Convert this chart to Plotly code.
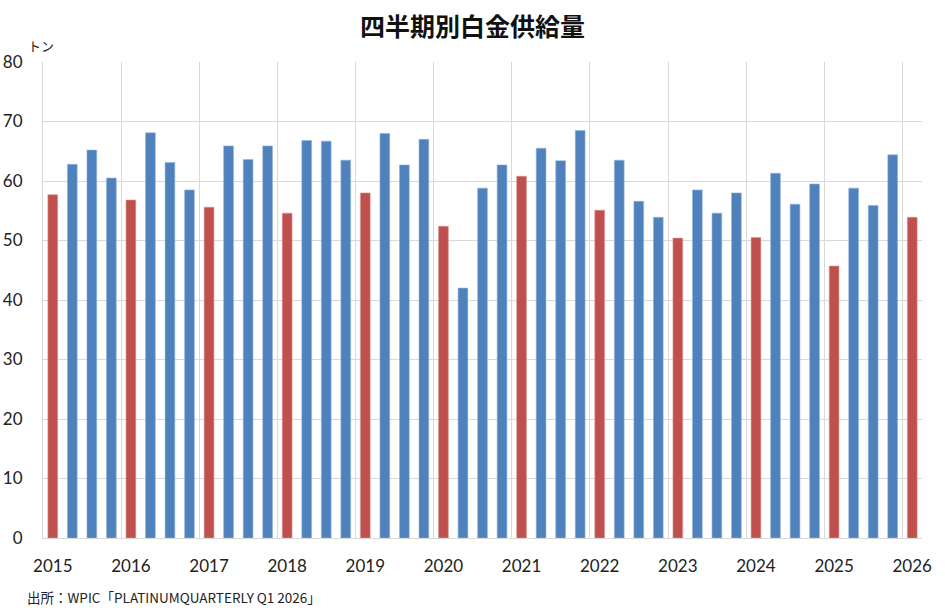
import plotly.graph_objects as go

# 四半期別白金供給量 (トン), 2015Q1 - 2026Q1
years = [2015, 2016, 2017, 2018, 2019, 2020, 2021, 2022, 2023, 2024, 2025, 2026]
q1 = [57.7, 56.8, 55.6, 54.6, 58.0, 52.4, 60.8, 55.1, 50.4, 50.5, 45.7, 53.9]
q2 = [62.8, 68.1, 65.9, 66.8, 68.0, 42.0, 65.5, 63.5, 58.5, 61.3, 58.8]
q3 = [65.2, 63.1, 63.6, 66.7, 62.7, 58.8, 63.4, 56.6, 54.6, 56.1, 55.9]
q4 = [60.5, 58.5, 65.9, 63.5, 67.0, 62.7, 68.5, 53.9, 58.0, 59.5, 64.4]

values = []
is_q1 = []
for i, y in enumerate(years):
    values.append(q1[i]); is_q1.append(True)
    if i < len(q2):
        values += [q2[i], q3[i], q4[i]]
        is_q1 += [False, False, False]

idx = list(range(len(values)))
blue = "#4F81BD"
red = "#C0504D"
colors = [red if f else blue for f in is_q1]
edge = ["#D99694" if f else "#95B3D7" for f in is_q1]

tick_idx = [i for i, f in enumerate(is_q1) if f]
tick_txt = [str(y) for y in years]

grid = "#D9D9D9"
lab_font = dict(family="Lato, 'Open Sans', sans-serif", size=17, color="#222222")

fig = go.Figure(go.Bar(
    x=idx, y=values,
    marker=dict(color=colors, line=dict(color=edge, width=0.6)),
    hoverinfo="y",
))

fig.update_layout(
    width=945, height=615,
    margin=dict(l=43, r=23, t=62, b=77),
    paper_bgcolor="white", plot_bgcolor="white",
    bargap=0.5, showlegend=False,
    title=dict(text="<b>四半期別白金供給量</b>", x=0.5, xanchor="center",
               y=1 - 27 / 615, yanchor="middle", yref="container",
               font=dict(family="Noto Sans CJK JP", size=25, color="#111111")),
    xaxis=dict(range=[-0.5, len(values) - 0.5], tickmode="array",
               tickvals=tick_idx, ticktext=tick_txt, showgrid=False,
               ticks="outside", ticklen=13, tickcolor="rgba(0,0,0,0)",
               tickfont=lab_font, showline=True, linecolor=grid, linewidth=1,
               zeroline=False, automargin=False,
               minor=dict(tickmode="linear", tick0=-0.5, dtick=4, showgrid=True,
                          gridcolor=grid, gridwidth=1, ticks="")),
    yaxis=dict(range=[0, 80], tickmode="linear", tick0=0, dtick=10,
               showgrid=True, gridcolor=grid, gridwidth=1,
               ticks="outside", ticklen=16, tickcolor="rgba(0,0,0,0)",
               tickfont=lab_font, showline=True, linecolor=grid, zeroline=False,
               automargin=False),
    annotations=[
        dict(text="トン", xref="paper", yref="paper", x=-0.0023, y=1.034,
             xanchor="center", yanchor="middle", showarrow=False,
             font=dict(family="Noto Sans CJK JP", size=13, color="#222222")),
        dict(text="出所：WPIC「PLATINUMQUARTERLY Q1 2026」", xref="paper", yref="paper",
             x=-0.0205, y=-0.124, xanchor="left", yanchor="middle", showarrow=False,
             font=dict(family="Noto Sans CJK JP", size=13.5, color="#222222")),
    ],
)

fig.write_html("out.html")
